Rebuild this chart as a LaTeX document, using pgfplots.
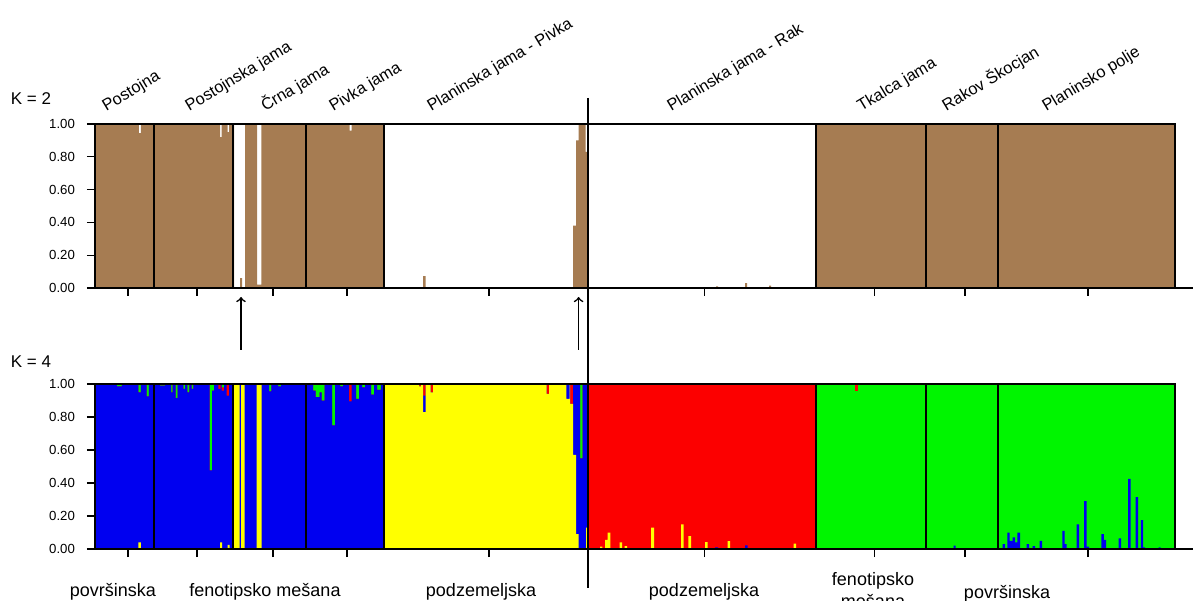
\documentclass[border=0pt]{standalone}
\usepackage{fontspec}
\setmainfont{Liberation Sans}
\usepackage{pgfplots}
\pgfplotsset{compat=1.18}
\definecolor{brn}{RGB}{166,124,82}
\definecolor{sgreen}{RGB}{0,245,0}
\definecolor{sblue}{RGB}{0,0,240}
\definecolor{sred}{RGB}{252,0,0}
\definecolor{syellow}{RGB}{255,255,0}
\pgfplotsset{
  structstyle/.style={
    scale only axis, width=540pt,
    xmin=95, xmax=1175, ymin=0, ymax=1,
    axis on top,
    xtick={128,197,273,347,489,704.6,874.6,965,1088}, xticklabels={},
    ytick={0,0.2,0.4,0.6,0.8,1},
    tick align=outside, major tick length=4pt,
    xtick pos=bottom, ytick pos=left,
    tick style={black, line width=0.6pt},
    axis line style={line width=1pt},
    /pgf/number format/assume math mode=true,
    yticklabel style={font=\fontsize{6.6}{7}\selectfont,
      /pgf/number format/fixed, /pgf/number format/fixed zerofill,
      /pgf/number format/precision=2, xshift=-2.5pt},
  }
}
\begin{document}
\begin{tikzpicture}
\useasboundingbox (0,0) rectangle (596.5pt,300pt);
% ---------- K = 2 ----------
\begin{axis}[structstyle, height=82pt, at={(47.5pt,156pt)}, anchor=south west]
\addplot[const plot, fill=brn, draw=none] coordinates {
(95,1) (139,0.945) (141,1)
(220,0.92) (221.5,1) (227.5,0.95) (229,1)
(234,0) (240,0.06) (242,0) (245,1) (257,0.02) (261.3,1)
(349.5,0.96) (351.5,1)
(384,0) (423,0.073) (425.5,0)
(573,0.38) (576,0.9) (578.6,1) (585.5,0.83) (588,0)
(716,0.01) (718,0) (745,0.03) (747,0) (769,0.015) (771,0)
(816,1) (1175,1)} \closedcycle;
\addplot[ycomb, black, line width=1pt, mark=none] coordinates {
(154,1) (233,1) (306,1) (384,1) (816,1) (925.5,1) (998,1)};
\end{axis}
% ---------- K = 4 ----------
\begin{axis}[structstyle, height=82.5pt, at={(47.5pt,25.5pt)}, anchor=south west]
% green (top component) everywhere
\addplot[const plot, fill=sgreen, draw=none] coordinates {(95,1) (1175,1)} \closedcycle;
% red : cumulative yellow+blue+red
\addplot[const plot, fill=sred, draw=none] coordinates {
(95,1) (117,0.985) (122,1) (138.5,0.95) (140.8,1) (146.6,0.925) (149,1)
(160,0.99) (165,1) (171,0.95) (172.7,1) (175.7,0.915) (177.7,1) (183.3,0.97) (185,1)
(187.3,0.95) (189.3,1) (191.7,0.97) (193.3,1) (209.7,0.477) (212.2,0.96) (214,1)
(221.7,0.98) (224,1) (269,0.955) (271.3,1) (278,0.985) (281,1)
(313,0.96) (315.7,0.92) (319.6,0.95) (321.5,0.90) (324.5,1) (332,0.75) (335,1)
(340,0.985) (343,1) (356,0.91) (359,1) (362,0.98) (365,1) (371,0.935) (374,1)
(377,0.965) (380.8,1) (580,0.55) (582.5,1) (816,0) (1175,0)} \closedcycle;
% blue : cumulative yellow+blue
\addplot[const plot, fill=sblue, draw=none] coordinates {
(95,1) (117,0.985) (122,1) (138.5,0.95) (140.8,1) (146.6,0.925) (149,1)
(160,0.99) (165,1) (171,0.95) (172.7,1) (175.7,0.915) (177.7,1) (183.3,0.97) (185,1)
(187.3,0.95) (189.3,1) (191.7,0.97) (193.3,1) (209.7,0.477) (212.2,0.96) (214,1)
(218.3,0.97) (220.7,1) (221.7,0.96) (224,1) (226.7,0.93) (229,1)
(269,0.955) (271.3,1) (278,0.985) (281,1)
(313,0.96) (315.7,0.92) (319.6,0.95) (321.5,0.90) (324.5,1) (332,0.75) (335,1)
(340,0.985) (343,1) (349,0.895) (351.5,1) (356,0.91) (359,1) (362,0.98) (365,1)
(371,0.935) (374,1) (377,0.965) (380.8,1)
(419,0.985) (421,1) (423,0.93) (425.5,1) (430.5,0.95) (433,1) (546.5,0.94) (549,1)
(570.2,0.88) (573,1) (580,0.55) (582.5,1) (588,0)
(715,0.01) (718,0) (745,0.022) (747.7,0)
(953.5,0.02) (955.5,0) (1002.7,0.03) (1005.2,0) (1007.3,0.10) (1009.5,0.05)
(1012.7,0.07) (1015,0.04) (1017.3,0.10) (1020,0) (1026.5,0.03) (1029.2,0)
(1032.5,0.017) (1035,0) (1039.5,0.05) (1042,0) (1062.3,0.11) (1064.5,0.03) (1066.5,0)
(1076.5,0.15) (1079,0) (1084.2,0.29) (1086.5,0.015) (1089,0) (1101.3,0.09)
(1103.8,0.055) (1106,0) (1118.5,0.065) (1121,0) (1128,0.425) (1130.6,0)
(1135.5,0.315) (1138,0) (1140.8,0.175) (1143,0.01) (1145,0) (1158.5,0.01) (1160.5,0)
(1175,0)} \closedcycle;
% yellow : cumulative yellow
\addplot[const plot, fill=syellow, draw=none] coordinates {
(95,0) (138.5,0.04) (140.8,0) (220,0.04) (222,0) (227.7,0.025) (229.6,0)
(234,1) (239.5,0) (241,1) (244.5,0) (256.7,1) (261.5,0)
(384,1) (419,0.985) (421,1) (423,0.83) (425.5,1) (430.5,0.95) (433,1)
(546.5,0.94) (549,1) (566.4,0.91) (569.5,1) (570.2,0.88) (573,0.57) (576,0.09)
(578.6,0) (586,0.13) (588,0)
(600,0.015) (602.3,0) (605,0.055) (607.5,0.10) (610.3,0) (619.5,0.04) (622,0)
(624.5,0.018) (627,0) (651,0.13) (654,0) (681,0.15) (683.7,0) (688.3,0.078) (691,0)
(705,0.042) (707.7,0) (727.5,0.048) (730,0) (793.5,0.033) (796,0) (1175,0)} \closedcycle;
% red at top of one individual in Tkalca jama
\addplot[fill=sred, draw=none] coordinates {(855.4,0.96) (858,0.96) (858,1) (855.4,1)} -- cycle;
\addplot[ycomb, black, line width=1pt, mark=none] coordinates {
(154,1) (233,1) (306,1) (384,1) (816,1) (925.5,1) (998,1)};
\end{axis}
% ---------- annotations (pixel coordinates) ----------
\begin{scope}[x=0.5pt, y=-0.5pt, yshift=300pt]
\draw[line width=1pt] (1175,288) -- (1193,288);
\draw[line width=1pt] (1175,549) -- (1193,549);
\draw[line width=1pt] (588,98) -- (588,588);
\draw[->, line width=0.8pt] (241,350) -- (241,297);
\draw[->, line width=0.8pt] (578.6,350) -- (578.6,297);
\node[anchor=center, font=\fontsize{8.5}{10}\selectfont] at (31,99) {K = 2};
\node[anchor=center, font=\fontsize{8.5}{10}\selectfont] at (31,362) {K = 4};
\begin{scope}[every node/.style={anchor=base west, rotate=31, inner sep=0pt, font=\fontsize{8.2}{9}\selectfont}]
\node at (106,112) {Postojna};
\node at (189,112) {Postojnska jama};
\node at (265,112) {Črna jama};
\node at (333,112) {Pivka jama};
\node at (431,112) {Planinska jama - Pivka};
\node at (671,112) {Planinska jama - Rak};
\node at (861,112) {Tkalca jama};
\node at (946,112) {Rakov Škocjan};
\node at (1046,112) {Planinsko polje};
\end{scope}
\begin{scope}[every node/.style={anchor=base, inner sep=0pt, font=\fontsize{9}{10}\selectfont}]
\node at (113,596) {površinska};
\node at (265,596) {fenotipsko mešana};
\node at (481,596) {podzemeljska};
\node at (704,596) {podzemeljska};
\node at (873,585) {fenotipsko};
\node at (873,607) {mešana};
\node at (1007,598) {površinska};
\end{scope}
\end{scope}
\end{tikzpicture}
\end{document}
